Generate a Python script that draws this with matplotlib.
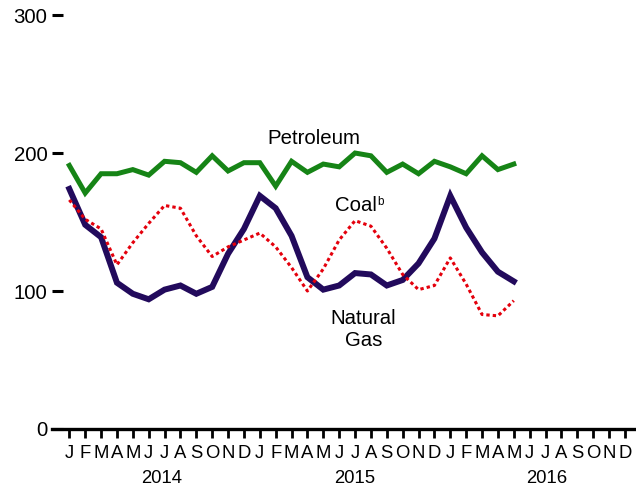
import matplotlib
matplotlib.use("Agg")
import matplotlib.pyplot as plt
import numpy as np

plt.rcParams['font.family'] = ['Liberation Sans', 'DejaVu Sans']

# Monthly values, January 2014 through May 2016
month_letters = ["J", "F", "M", "A", "M", "J", "J", "A", "S", "O", "N", "D"]
years = ["2014", "2015", "2016"]

petroleum = [191, 171, 185, 185, 188, 184, 194, 193, 186, 198, 187, 193,
             193, 176, 194, 186, 192, 190, 200, 198, 186, 192, 185, 194,
             190, 185, 198, 188, 192]
natural_gas = [174, 148, 139, 106, 98, 94, 101, 104, 98, 103, 127, 145,
               169, 160, 140, 110, 101, 104, 113, 112, 104, 108, 120, 138,
               169, 146, 128, 114, 107]
coal = [166, 152, 145, 119, 135, 149, 162, 160, 140, 125, 132, 137,
        142, 132, 117, 100, 116, 137, 151, 147, 131, 112, 101, 104,
        124, 105, 83, 82, 93]

y_ticks = [0, 100, 200, 300]

GREEN = "#168416"
PURPLE = "#220a5c"
RED = "#e4000c"
FS = 14.7
FS_X = 13.3

fig = plt.figure(figsize=(6.36, 4.87), dpi=100)
ax = fig.add_axes([0.0818, 0.1191, 0.9182, 0.850])

n_months = len(month_letters) * len(years)
x = np.arange(len(petroleum))

ax.plot(x, petroleum, color=GREEN, lw=3.6, solid_joinstyle='miter', zorder=3)
ax.plot(x, natural_gas, color=PURPLE, lw=4.3, solid_joinstyle='miter', zorder=3)
ax.plot(x, coal, color=RED, lw=2.2, linestyle=(0, (1.1, 1.0)),
        dash_capstyle='butt', zorder=4)

ax.set_xlim(-1.09, 35.7)
ax.set_ylim(0, 300)

for side in ("top", "right", "left"):
    ax.spines[side].set_visible(False)
ax.spines["bottom"].set_linewidth(2.4)

ax.set_yticks(y_ticks)
ax.set_yticklabels([str(v) for v in y_ticks], fontsize=FS)
ax.tick_params(axis='y', direction='in', length=8.2, width=2.2, pad=3.4)

ax.set_xticks(np.arange(n_months))
ax.set_xticklabels(month_letters * len(years), fontsize=FS_X)
ax.tick_params(axis='x', direction='out', length=6.5, width=2.0, pad=5.0)

for i, yr in enumerate(years):
    ax.annotate(yr, xy=(5.8 + 12.15 * i, 0), xycoords=('data', 'axes fraction'),
                xytext=(0, -29.5), textcoords='offset points',
                ha='center', va='top', fontsize=FS_X)

# Series labels
ax.text(15.41, 206.6, "Petroleum", ha='center', va='baseline', fontsize=FS)
ax.text(16.73, 158.3, "Coal", ha='left', va='baseline', fontsize=FS)
ax.text(19.38, 168.9, "b", ha='left', va='top', fontsize=8.5)
ax.text(18.54, 60.3, "Natural\nGas", ha='center', va='baseline', fontsize=FS,
        multialignment='center', linespacing=1.2)

fig.savefig("out.png", dpi=100)
